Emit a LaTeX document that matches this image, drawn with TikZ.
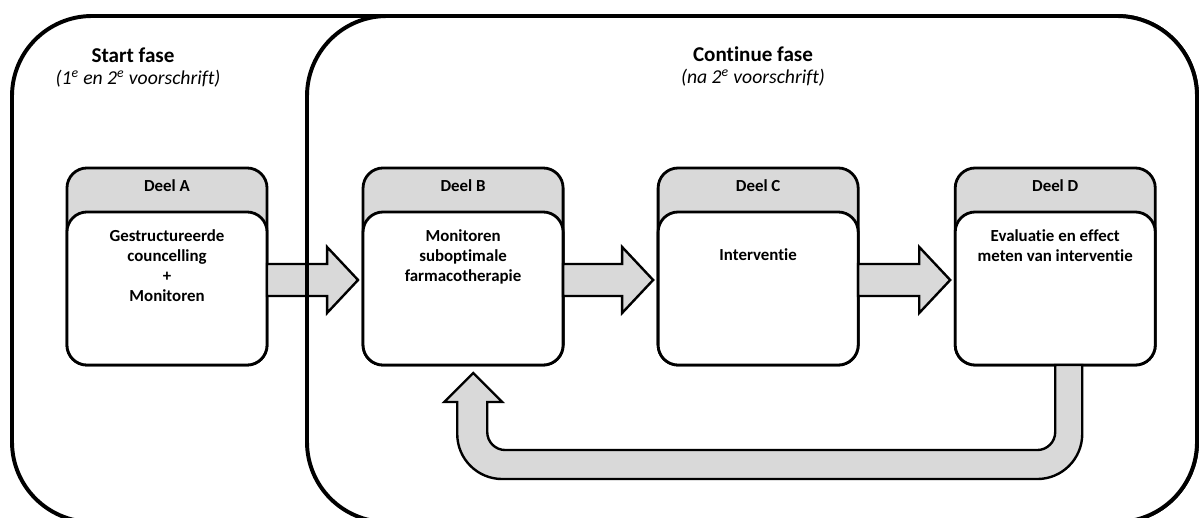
\documentclass[tikz,border=0pt]{standalone}
\usepackage{fontspec}
\setmainfont{Carlito}[Ligatures={NoCommon,NoRare}]
\usetikzlibrary{positioning,calc}

\definecolor{fillgray}{RGB}{217,217,217}

\tikzset{
  fase/.style={draw, line width=2.8pt, rounded corners=2cm},
  deel/.style={draw, line width=2pt, rounded corners=0.5cm, fill=fillgray,
    minimum width=5cm, minimum height=4.925cm, inner sep=0pt, outer sep=0pt},
  inhoud/.style={draw, line width=2pt, rounded corners=0.5cm, fill=white,
    minimum width=5cm, minimum height=3.825cm, inner sep=0pt, outer sep=0pt, anchor=south},
  kop/.style={font=\bfseries\fontsize{12}{14}\selectfont, anchor=base},
  tekst/.style={font=\bfseries\fontsize{12}{14.2}\selectfont, align=center, anchor=north, inner sep=0pt},
  titel/.style={font=\bfseries\fontsize{15}{18}\selectfont, anchor=base},
  subtitel/.style={font=\itshape\fontsize{14}{17}\selectfont, anchor=base},
  blokpijl/.style={draw, line width=1.7pt, fill=fillgray, line join=miter,
    to path={($(\tikztostart)+(0,-16)$) -- ($(\tikztotarget)+(-36,-16)$)
      -- ($(\tikztotarget)+(-36,-33)$) -- ($(\tikztotarget)+(-5,0)$)
      -- ($(\tikztotarget)+(-36,33)$) -- ($(\tikztotarget)+(-36,16)$)
      -- ($(\tikztostart)+(0,16)$) -- cycle}},
  terugpijl/.style={draw, line width=1.7pt, fill=fillgray, line join=miter},
}

\begin{document}
\begin{tikzpicture}[x=0.025cm, y=-0.025cm]
  \useasboundingbox (0,0) rectangle (1201,518);

  % fases
  \draw[fase] (12,16) rectangle (1197,522);
  \fill[white, rounded corners=2cm] (307,16) rectangle (1197,522);

  \node[titel] (start) at (133,63) {Start fase};
  \node[subtitel] (startsub) at (138,85) {(1\textsuperscript{e} en 2\textsuperscript{e} voorschrift)};
  \node[titel] (cont) at (753,62) {Continue fase};
  \node[subtitel] (contsub) at (753,84) {(na 2\textsuperscript{e} voorschrift)};

  % delen
  \node[deel] (A) at (167,266.5) {};
  \node[deel, right=2.4cm of A] (B) {};
  \node[deel, right=2.375cm of B] (C) {};
  \node[deel, right=2.425cm of C] (D) {};

  \foreach \d in {A,B,C,D} {
    \node[inhoud] (\d i) at (\d.south) {};
    \node[kop] (\d k) at ($(\d.north)+(0,24)$) {Deel \d};
  }

  \node[tekst] (At) at ($(Ai.north)+(0,17)$) {Gestructureerde\\councelling\\+\\Monitoren};
  \node[tekst] (Bt) at ($(Bi.north)+(0,17)$) {Monitoren\\suboptimale\\farmacotherapie};
  \node[tekst] (Ct) at ($(Ci.north)+(0,36)$) {Interventie};
  \node[tekst] (Dt) at ($(Di.north)+(0,17)$) {Evaluatie en effect\\meten van interventie};

  % pijlen
  \coordinate (ab1) at (A.east |- 0,280);
  \coordinate (ab2) at (B.west |- 0,280);
  \coordinate (bc1) at (B.east |- 0,280);
  \coordinate (bc2) at (C.west |- 0,280);
  \coordinate (cd1) at (C.east |- 0,280);
  \coordinate (cd2) at (D.west |- 0,280);
  \draw[blokpijl] (ab1) to (ab2);
  \draw[blokpijl] (bc1) to (bc2);
  \draw[blokpijl] (cd1) to (cd2);

  \draw[terugpijl] (D.south) -- ++(0,67) arc[start angle=0, end angle=90, radius=18]
    -- ++(-532,0) arc[start angle=90, end angle=180, radius=18]
    -- ++(0,-30) -- ++(15,0) -- ++(-29,-29) -- ++(-29,29) -- ++(13,0)
    -- ++(0,32) arc[start angle=180, end angle=90, radius=45]
    -- ++(535,0) arc[start angle=90, end angle=0, radius=45]
    -- ++(0,-69) -- cycle;

  \draw[fase] (307,16) rectangle (1197,522);
\end{tikzpicture}
\end{document}
